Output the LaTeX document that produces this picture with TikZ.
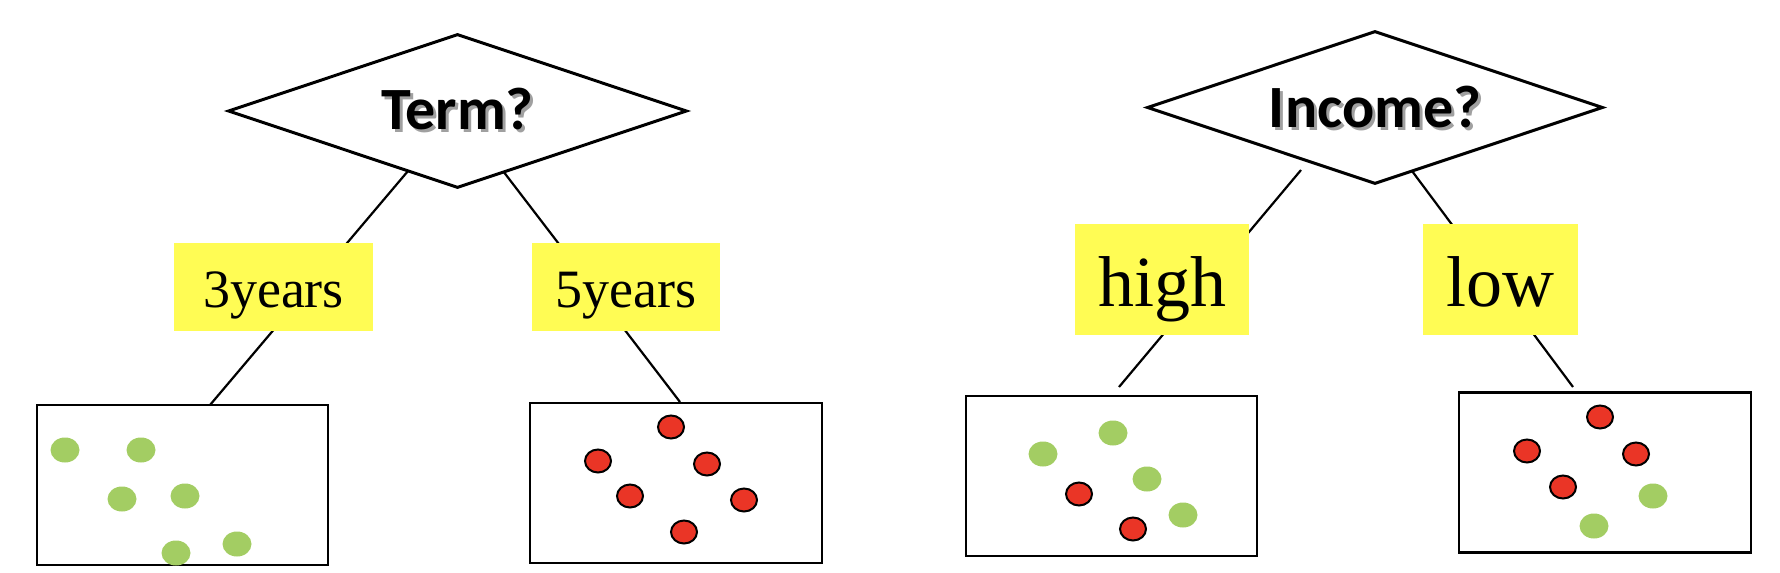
\documentclass[tikz,border=0pt]{standalone}
\usepackage{fontspec}
\setmainfont{Liberation Serif}
\newfontfamily\headfont{Carlito}
\usetikzlibrary{shapes.geometric}
\definecolor{lblyellow}{HTML}{FFFC54}
\definecolor{leafgreen}{HTML}{A3CD63}
\definecolor{leafred}{HTML}{EA3526}
\definecolor{shadowgray}{HTML}{A0A0A0}

\newcommand{\shadowed}[1]{\makebox[0pt][l]{\hspace{1.5pt}\raisebox{-1.5pt}{\textcolor{shadowgray}{#1}}}#1}

\tikzset{
  question/.style={diamond, draw=black, line width=1.5pt, fill=white,
    shape aspect=3, inner sep=0pt, text depth=0pt, font=\headfont\bfseries},
  branch/.style={fill=lblyellow, inner sep=0pt, text depth=0pt},
  leafbox/.style={draw=black, line width=1.2pt, minimum width=145.5pt,
    minimum height=80pt, inner sep=0pt},
  edge/.style={line width=1.1pt},
  gdot/.style={fill=leafgreen, x radius=7.25pt, y radius=6.25pt},
  rdot/.style={fill=leafred, draw=black, line width=1pt, x radius=6.5pt, y radius=5.75pt},
}

\begin{document}
\begin{tikzpicture}[x=0.5pt, y=-0.5pt]

\useasboundingbox (0,0) rectangle (1780,572);

% End points of the branch lines
\coordinate (term-l) at (408,171);    % Term?, left side
\coordinate (term-r) at (503,171);    % Term?, right side
\coordinate (inc-l) at (1301,170);    % Income?, left side
\coordinate (inc-r) at (1412,171);    % Income?, right side
\coordinate (leaf1-t) at (210,405);
\coordinate (leaf2-t) at (680,402);
\coordinate (leaf3-t) at (1119,387);
\coordinate (leaf4-t) at (1573,387);

% --- Branch lines ---
\draw[edge] (term-l) -- (leaf1-t);
\draw[edge] (term-r) -- (leaf2-t);
\draw[edge] (inc-l) -- (leaf3-t);
\draw[edge] (inc-r) -- (leaf4-t);

% --- Questions ---
\node[question, minimum width=229.5pt, minimum height=77pt, text height=19pt]
  (term) at (457.5,111) {\fontsize{30}{34}\selectfont\shadowed{Term?}};
\node[question, minimum width=228pt, minimum height=76.5pt, text height=20.5pt]
  (income) at (1375,107.5) {\fontsize{30}{34}\selectfont\shadowed{Income?}};

% --- Branch labels ---
\node[branch, minimum width=99.5pt, minimum height=44pt, text height=20.5pt,
  font=\fontsize{27}{32}\selectfont] (y3) at (273.5,286.5) {3years};
\node[branch, minimum width=94pt, minimum height=44pt, text height=20.5pt,
  font=\fontsize{27}{32}\selectfont] (y5) at (626,286.5) {5years};
\node[branch, minimum width=87pt, minimum height=55.5pt, text height=26.7pt,
  font=\fontsize{36}{42}\selectfont] (high) at (1162,279.5) {high};
\node[branch, minimum width=77.5pt, minimum height=55.5pt, text height=26.7pt,
  font=\fontsize{36}{42}\selectfont] (low) at (1500,279.5) {low};

% --- Leaf boxes ---
\node[leafbox] (leaf1) at (182.5,485) {};
\node[leafbox, minimum width=146pt] (leaf2) at (676,483) {};
\node[leafbox] (leaf3) at (1111.5,476) {};
\node[leafbox, minimum width=146pt] (leaf4) at (1605,472.5) {};

% Leaf 1: all green
\fill[gdot] (65,450) ellipse [];
\fill[gdot] (141,450) ellipse [];
\fill[gdot] (122,499) ellipse [];
\fill[gdot] (185,496) ellipse [];
\fill[gdot] (176,553) ellipse [];
\fill[gdot] (237,544) ellipse [];

% Leaf 2: all red
\filldraw[rdot] (671,427) ellipse [];
\filldraw[rdot] (598,461) ellipse [];
\filldraw[rdot] (707,464) ellipse [];
\filldraw[rdot] (630,496) ellipse [];
\filldraw[rdot] (744,500) ellipse [];
\filldraw[rdot] (684,532) ellipse [];

% Leaf 3: mostly green
\fill[gdot] (1113,433) ellipse [];
\fill[gdot] (1043,454) ellipse [];
\fill[gdot] (1147,479) ellipse [];
\fill[gdot] (1183,515) ellipse [];
\filldraw[rdot] (1079,494) ellipse [];
\filldraw[rdot] (1133,529) ellipse [];

% Leaf 4: mostly red
\filldraw[rdot] (1600,417) ellipse [];
\filldraw[rdot] (1527,451) ellipse [];
\filldraw[rdot] (1636,454) ellipse [];
\filldraw[rdot] (1563,487) ellipse [];
\fill[gdot] (1653,496) ellipse [];
\fill[gdot] (1594,526) ellipse [];

\end{tikzpicture}
\end{document}
